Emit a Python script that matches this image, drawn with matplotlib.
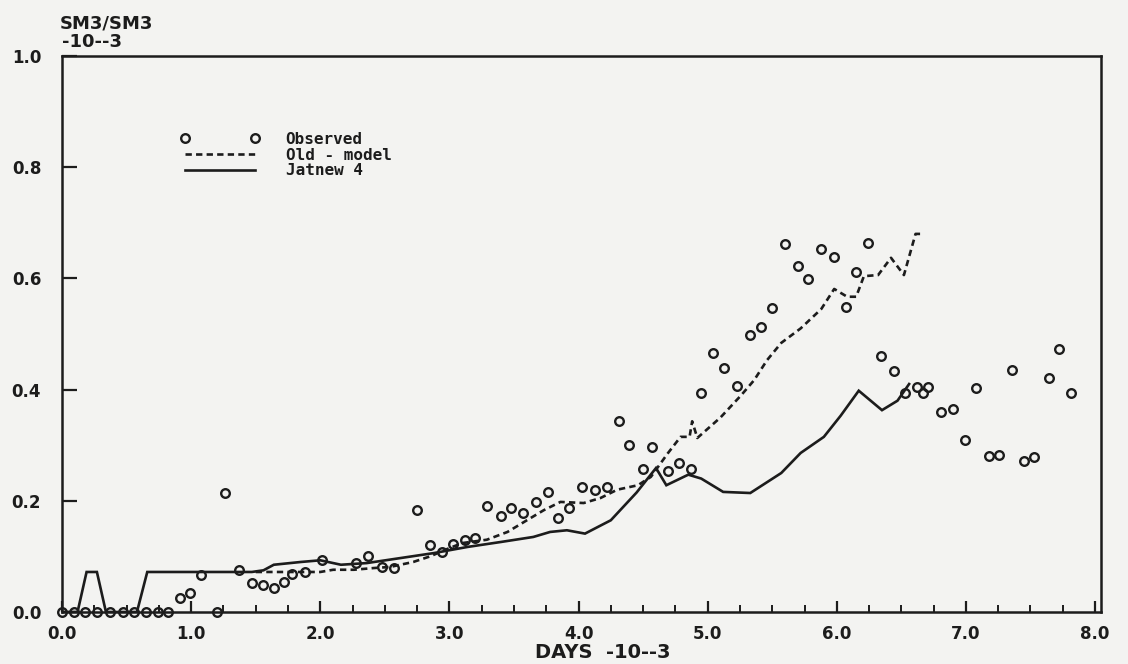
import matplotlib
matplotlib.use("Agg")
import matplotlib.pyplot as plt
from matplotlib.ticker import MultipleLocator

# Observed ratio (open circles)
obs_days = [0.0, 0.09, 0.18, 0.27, 0.37, 0.47, 0.56, 0.65, 0.74, 0.82,
            0.91, 0.99, 1.08, 1.20, 1.26, 1.37, 1.47, 1.56, 1.64, 1.72,
            1.78, 1.88, 2.01, 2.28, 2.37, 2.48, 2.57, 2.75, 2.85, 2.94,
            3.03, 3.12, 3.20, 3.29, 3.40, 3.48, 3.57, 3.67, 3.76, 3.84,
            3.93, 4.03, 4.13, 4.22, 4.31, 4.39, 4.50, 4.57, 4.69, 4.78,
            4.87, 4.95, 5.04, 5.13, 5.23, 5.33, 5.41, 5.50, 5.60, 5.70,
            5.78, 5.88, 5.98, 6.07, 6.15, 6.24, 6.34, 6.44, 6.53, 6.62,
            6.67, 6.71, 6.81, 6.90, 6.99, 7.08, 7.18, 7.26, 7.36, 7.45,
            7.53, 7.64, 7.72, 7.81]
obs_ratio = [0.0, 0.0, 0.0, 0.0, 0.0, 0.0, 0.0, 0.0, 0.0, 0.0,
             0.025, 0.034, 0.067, 0.0, 0.214, 0.076, 0.052, 0.049, 0.043, 0.054,
             0.068, 0.072, 0.094, 0.088, 0.100, 0.081, 0.079, 0.183, 0.120, 0.108,
             0.122, 0.130, 0.133, 0.190, 0.173, 0.187, 0.178, 0.198, 0.216, 0.169,
             0.187, 0.225, 0.219, 0.225, 0.343, 0.300, 0.257, 0.297, 0.254, 0.268,
             0.258, 0.393, 0.466, 0.439, 0.406, 0.498, 0.512, 0.547, 0.662, 0.623,
             0.599, 0.652, 0.639, 0.549, 0.612, 0.663, 0.460, 0.433, 0.394, 0.405,
             0.394, 0.405, 0.360, 0.366, 0.309, 0.403, 0.281, 0.283, 0.435, 0.272,
             0.278, 0.421, 0.473, 0.394]

# Old model (dashed)
old_days = [1.50, 1.90, 2.00, 2.10, 2.26, 2.41, 2.54, 2.72, 2.85, 3.00,
            3.10, 3.29, 3.45, 3.60, 3.73, 3.86, 4.04, 4.17, 4.30, 4.46,
            4.56, 4.69, 4.79, 4.86, 4.88, 4.92, 5.10, 5.26, 5.36, 5.46,
            5.57, 5.72, 5.88, 5.98, 6.08, 6.15, 6.21, 6.32, 6.42, 6.52,
            6.61, 6.67]
old_ratio = [0.072, 0.072, 0.072, 0.076, 0.076, 0.079, 0.081, 0.090, 0.100, 0.115,
             0.124, 0.130, 0.144, 0.165, 0.183, 0.198, 0.196, 0.205, 0.220, 0.228,
             0.243, 0.285, 0.315, 0.315, 0.343, 0.313, 0.350, 0.390, 0.417, 0.453,
             0.484, 0.510, 0.545, 0.581, 0.567, 0.567, 0.604, 0.606, 0.637, 0.606,
             0.680, 0.680]

# Jatnew 4 (solid)
jat_days = [0.0, 0.12, 0.19, 0.27, 0.34, 0.58, 0.66, 1.47, 1.56, 1.64,
            1.85, 2.00, 2.16, 2.36, 2.62, 2.88, 3.14, 3.40, 3.65, 3.78,
            3.91, 4.05, 4.25, 4.45, 4.60, 4.68, 4.85, 4.95, 5.12, 5.33,
            5.57, 5.72, 5.90, 6.03, 6.17, 6.35, 6.47, 6.56]
jat_ratio = [0.0, 0.0, 0.072, 0.072, 0.0, 0.0, 0.072, 0.072, 0.075, 0.085,
             0.090, 0.093, 0.085, 0.088, 0.097, 0.106, 0.117, 0.126, 0.135, 0.144,
             0.147, 0.141, 0.165, 0.215, 0.259, 0.228, 0.247, 0.240, 0.216, 0.214,
             0.250, 0.286, 0.315, 0.353, 0.398, 0.363, 0.380, 0.410]

y_ticks = [0.0, 0.2, 0.4, 0.6, 0.8, 1.0]
x_ticks = [0.0, 1.0, 2.0, 3.0, 4.0, 5.0, 6.0, 7.0, 8.0]

INK = "#1c1c1c"
PAPER = "#f3f3f1"
FONT = "DejaVu Sans"

fig = plt.figure(figsize=(11.28, 6.64), dpi=100, facecolor=PAPER)
ax = fig.add_axes([0.055, 0.0783, 0.9215, 0.8374], facecolor=PAPER)

ax.plot(jat_days, jat_ratio, color=INK, lw=1.9, solid_joinstyle="miter",
        label="Jatnew 4", zorder=3)
ax.plot(old_days, old_ratio, color=INK, lw=1.9, linestyle=(0, (2.4, 1.6)),
        label="Old - model", zorder=3)
ax.plot(obs_days, obs_ratio, linestyle="none", marker="o", ms=6.2,
        mfc="none", mec=INK, mew=1.7, label="Observed", zorder=4,
        clip_on=False)

ax.set_xlim(0, 8.05)
ax.set_ylim(0, 1.0)
ax.set_xticks(x_ticks)
ax.set_xticklabels([f"{v:.1f}" for v in x_ticks])
ax.xaxis.set_minor_locator(MultipleLocator(0.25))
ax.set_yticks(y_ticks)
ax.set_yticklabels([f"{v:.1f}" for v in y_ticks])

ax.tick_params(axis="x", which="major", direction="in", length=8, width=1.6,
               pad=9, colors=INK, labelsize=12)
ax.tick_params(axis="x", which="minor", direction="in", length=5, width=1.4,
               colors=INK)
ax.tick_params(axis="y", which="major", direction="in", length=11, width=1.6,
               pad=15, colors=INK, labelsize=12)
for lab in ax.get_xticklabels() + ax.get_yticklabels():
    lab.set_fontfamily(FONT)
    lab.set_fontweight("bold")

for sp in ax.spines.values():
    sp.set_linewidth(1.8)
    sp.set_color(INK)

# Axis titles
fig.text(60 / 1128, 1 - 23 / 664, "SM3/SM3", fontsize=13, fontweight="bold",
         family=FONT, color=INK, ha="left", va="center")
fig.text(62 / 1128, 1 - 42 / 664, "-10--3", fontsize=13, fontweight="bold",
         family=FONT, color=INK, ha="left", va="center")
fig.text(603 / 1128, 1 - 652 / 664, "DAYS  -10--3", fontsize=14,
         fontweight="bold", family=FONT, color=INK, ha="center", va="center")

handles, labels = ax.get_legend_handles_labels()
order = [2, 1, 0]
leg = ax.legend([handles[i] for i in order], [labels[i] for i in order],
                loc="upper left", bbox_to_anchor=(0.106, 0.878),
                frameon=False, numpoints=2, handlelength=5.0,
                handletextpad=1.6, labelspacing=0.05, borderpad=0,
                prop={"family": "DejaVu Sans Mono", "weight": "bold",
                      "size": 11.5})
for t in leg.get_texts():
    t.set_color(INK)

fig.savefig("out.png", dpi=100, facecolor=PAPER)
